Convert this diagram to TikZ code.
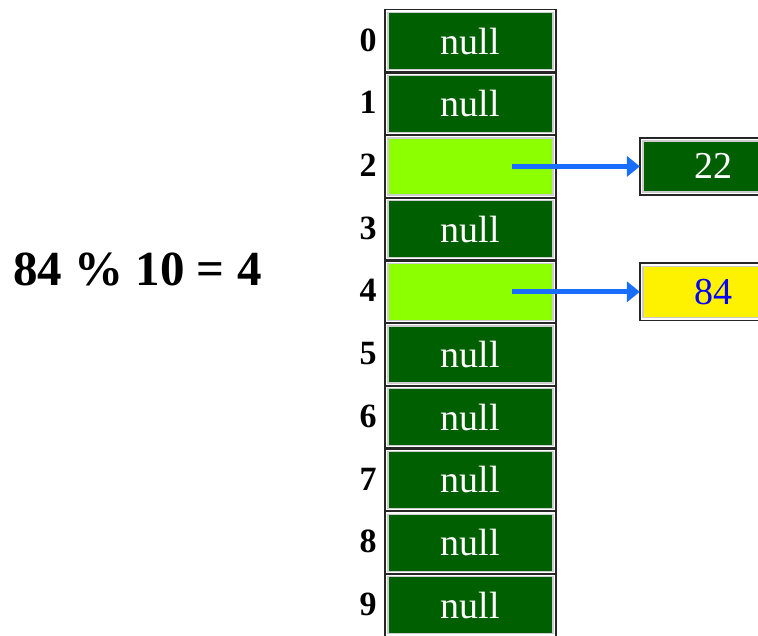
\documentclass[tikz,border=0pt]{standalone}
\usepackage{fontspec}
\setmainfont{Liberation Serif}
\usetikzlibrary{arrows.meta}
\definecolor{dkgreen}{RGB}{0,95,0}
\definecolor{lime}{RGB}{140,255,0}
\definecolor{arrblue}{RGB}{25,110,255}
\definecolor{rim}{RGB}{205,205,205}
\tikzset{
  cellbox/.style={minimum width=165pt, minimum height=57pt, inner sep=0pt, draw=rim, line width=1.2pt,
    font=\fontsize{38}{40}\selectfont, text=white},
  nullcell/.style={cellbox, fill=dkgreen},
  usedcell/.style={cellbox, fill=lime},
  frame/.style={draw=black!85, line width=1.8pt},
  idx/.style={font=\fontsize{34}{36}\selectfont\bfseries, inner sep=0pt},
  ptr/.style={draw=arrblue, line width=5pt, -{Triangle[length=13pt,width=20pt]}},
}
\begin{document}
\begin{tikzpicture}[x=1pt,y=-1pt]
\useasboundingbox (0,0) rectangle (758,635);
\foreach \i/\kind/\txt in {0/nullcell/null,1/nullcell/null,2/usedcell/{},3/nullcell/null,4/usedcell/{},5/nullcell/null,6/nullcell/null,7/nullcell/null,8/nullcell/null,9/nullcell/null}{
  \node[\kind] (c\i) at (470.5,{41+62.7*\i}) {\txt};
  \draw[frame] ([xshift=-2.5pt,yshift=2.5pt]c\i.north west) rectangle ([xshift=2.5pt,yshift=-2.5pt]c\i.south east);
  \node[idx] (l\i) at (368,{40+62.7*\i}) {\i};
}
\node[cellbox, fill=dkgreen, minimum width=140pt, minimum height=51pt] (b22) at (713,166.4) {22};
\draw[frame] ([xshift=-2.5pt,yshift=2.5pt]b22.north west) rectangle ([xshift=2.5pt,yshift=-2.5pt]b22.south east);
\node[cellbox, fill=yellow, text=blue, minimum width=140pt, minimum height=51pt] (b84) at (713,291.8) {84};
\draw[frame] ([xshift=-2.5pt,yshift=2.5pt]b84.north west) rectangle ([xshift=2.5pt,yshift=-2.5pt]b84.south east);
\draw[ptr] ([xshift=41pt]c2.center) -- ([xshift=-2.5pt]c2.center -| b22.west);
\draw[ptr] ([xshift=41pt]c4.center) -- ([xshift=-2.5pt]c4.center -| b84.west);
\node[font=\fontsize{49}{51}\selectfont\bfseries, anchor=west, inner sep=0pt] (eq) at (13,270) {84 \% 10 = 4};
\end{tikzpicture}
\end{document}
